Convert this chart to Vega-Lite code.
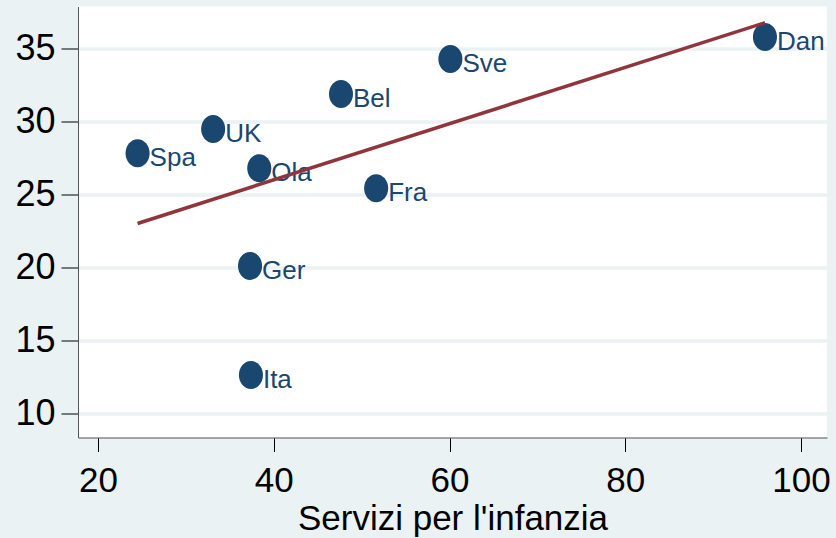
{
  "$schema": "https://vega.github.io/schema/vega-lite/v6.json",
  "width": 749,
  "height": 431,
  "autosize": {"type": "none"},
  "padding": {"left": 78, "top": 6.5, "right": 9, "bottom": 100},
  "background": "#EAF2F3",
  "config": {
    "view": {"fill": "#ffffff", "stroke": null},
    "font": "Liberation Sans"
  },
  "data": {
    "values": [
      {"paese": "Dan", "servizi": 95.9, "valore": 35.77},
      {"paese": "Sve", "servizi": 60.1, "valore": 34.27},
      {"paese": "Bel", "servizi": 47.65, "valore": 31.87},
      {"paese": "UK", "servizi": 33.1, "valore": 29.47},
      {"paese": "Spa", "servizi": 24.5, "valore": 27.81},
      {"paese": "Ola", "servizi": 38.35, "valore": 26.78},
      {"paese": "Fra", "servizi": 51.65, "valore": 25.41},
      {"paese": "Ger", "servizi": 37.3, "valore": 20.09},
      {"paese": "Ita", "servizi": 37.4, "valore": 12.62}
    ]
  },
  "encoding": {
    "x": {
      "field": "servizi",
      "type": "quantitative",
      "scale": {"domain": [17.72, 102.96], "nice": false, "zero": false},
      "axis": {
        "values": [20, 40, 60, 80, 100],
        "grid": false,
        "domainColor": "#555555",
        "domainWidth": 1,
        "tickColor": "#000000",
        "tickSize": 14,
        "tickWidth": 1,
        "labelFontSize": 35,
        "labelColor": "#000000",
        "labelPadding": 12,
        "labelFlush": false,
        "title": "Servizi per l'infanzia",
        "titleFontSize": 35,
        "titleFontWeight": "normal",
        "titleColor": "#000000",
        "titlePadding": 3
      }
    },
    "y": {
      "field": "valore",
      "type": "quantitative",
      "scale": {"domain": [8.34, 37.86], "nice": false, "zero": false},
      "axis": {
        "values": [10, 15, 20, 25, 30, 35],
        "grid": true,
        "gridColor": "#EAF2F3",
        "gridWidth": 3.5,
        "domainColor": "#555555",
        "domainWidth": 1,
        "tickColor": "#000000",
        "tickSize": 17,
        "tickWidth": 1,
        "labelFontSize": 36,
        "labelColor": "#000000",
        "labelPadding": 6,
        "labelFlush": false,
        "title": null
      }
    }
  },
  "layer": [
    {
      "mark": {
        "type": "point",
        "filled": true,
        "opacity": 1,
        "color": "#1A476F",
        "strokeWidth": 0,
        "shape": "M-0.86,0A0.86,1,0,1,0,0.86,0A0.86,1,0,1,0,-0.86,0Z",
        "size": 784
      }
    },
    {
      "mark": {
        "type": "text",
        "align": "left",
        "baseline": "alphabetic",
        "dx": 12,
        "dy": 13,
        "fontSize": 26,
        "color": "#1A476F"
      },
      "encoding": {"text": {"field": "paese", "type": "nominal"}}
    },
    {
      "data": {
        "values": [
          {"servizi": 24.5, "valore": 23.0},
          {"servizi": 95.9, "valore": 36.75}
        ]
      },
      "mark": {"type": "line", "color": "#90353B", "strokeWidth": 3.5},
      "encoding": {}
    }
  ]
}
